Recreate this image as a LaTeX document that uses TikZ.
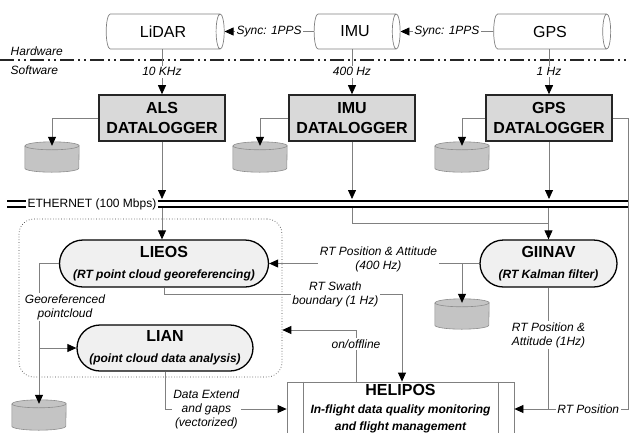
\documentclass[tikz,border=0pt]{standalone}
\usepackage{fontspec}
\setmainfont{Liberation Sans}
\usetikzlibrary{shapes.geometric,shapes.misc,arrows.meta}

\definecolor{boxgray}{HTML}{D9D9D9}
\definecolor{diskgray}{HTML}{C4C4C4}
\definecolor{linegray}{HTML}{808080}
\definecolor{pillgray}{HTML}{F0F0F0}

\tikzset{
  sensor/.style={cylinder, draw=linegray, line width=0.7pt, fill=white,
    minimum width=35pt, aspect=0.7, inner sep=0pt,
    font=\fontsize{16}{18}\selectfont},
  logger/.style={draw=black!85, line width=1.6pt, fill=boxgray,
    minimum width=126pt, minimum height=46pt, align=center, inner sep=0pt,
    font=\fontsize{16}{20}\selectfont\bfseries},
  disk/.style={minimum width=54pt, minimum height=22pt, inner sep=0pt},
  diskline/.style={draw=linegray!90, fill=diskgray, line width=0.6pt},
  process/.style={rounded rectangle, draw=black, line width=1.3pt, fill=pillgray,
    minimum height=47pt, align=center, inner sep=0pt,
    font=\fontsize{12}{21}\selectfont},
  conn/.style={draw=linegray, line width=0.8pt},
  tip/.style={conn, -{Triangle[length=9pt,width=8pt,color=black]}},
  lab/.style={fill=white, inner sep=1.5pt, align=center,
    font=\fontsize{12}{14}\selectfont\itshape},
  ethline/.style={draw=black, line width=1.9pt, double=white, double distance=3.5pt},
  divider/.style={draw=black!85, line width=1.8pt, dash pattern=on 14pt off 4pt on 2pt off 4pt on 2pt off 4pt}
}

\begin{document}
\begin{tikzpicture}[x=1pt,y=-1pt]
  \useasboundingbox (0,0) rectangle (629,432);

  \node[sensor, minimum height=118pt] (lidar) at (163,31.5) {LiDAR};
  \node[sensor, minimum height=86pt] (imu) at (355,31.5) {IMU};
  \node[sensor, minimum height=117pt] (gps) at (550,31.5) {GPS};

  \coordinate (hwL) at (0,60);
  \coordinate (hwR) at (629,60);
  \draw[divider] (hwL) -- (hwR);
  \node[lab, fill=none, anchor=west] (hwlab) at (9,51) {Hardware};
  \node[lab, fill=none, anchor=west] (swlab) at (9,70) {Software};

  \node[logger] (als) at (162,118) {ALS\\DATALOGGER};
  \node[logger] (imudl) at (352,118) {IMU\\DATALOGGER};
  \node[logger] (gpsdl) at (549,118) {GPS\\DATALOGGER};

  \node[disk] (alsdisk) at (52,157) {};
  \node[disk] (imudisk) at (260,157) {};
  \node[disk] (gpsdisk) at (462,157) {};
  \node[disk] (giinavdisk) at (462,314) {};
  \node[disk] (lieosdisk) at (39,415) {};
  \foreach \d in {alsdisk,imudisk,gpsdisk,giinavdisk,lieosdisk}{
    \draw[diskline] (\d.north west) -- (\d.south west)
      arc[start angle=180, end angle=360, x radius=27pt, y radius=4pt]
      -- (\d.north east)
      arc[start angle=0, end angle=180, x radius=27pt, y radius=4pt] -- cycle;
    \draw[diskline, fill=none] (\d.north west)
      arc[start angle=180, end angle=360, x radius=27pt, y radius=4pt];
  }

  \node[font=\fontsize{12}{14}\selectfont, inner sep=1pt] (eth) at (92,204) {ETHERNET (100 Mbps)};
  \coordinate (ethL) at (7,204);
  \coordinate (ethR) at (629,204);
  \coordinate (ethtop) at (0,199);
  \coordinate (ethbot) at (0,208);
  \coordinate (imujoin) at (0,223);

  \node[draw=black!75, dotted, line width=0.7pt, rounded corners=15pt, minimum width=263pt,
    minimum height=158pt] (group) at (150.5,298) {};
  \node[process, minimum width=209pt] (lieos) at (164,263.5)
    {{\fontsize{16}{18}\selectfont\bfseries LIEOS}\\
     {\bfseries\itshape (RT point cloud georeferencing)}};
  \node[process, minimum width=137pt] (giinav) at (548.5,263.5)
    {{\fontsize{16}{18}\selectfont\bfseries GIINAV}\\
     {\bfseries\itshape (RT Kalman filter)}};
  \node[process, minimum width=176pt, minimum height=46pt] (lian) at (165,348)
    {{\fontsize{16}{18}\selectfont\bfseries LIAN}\\
     {\bfseries\itshape (point cloud data analysis)}};

  \node[draw=linegray, line width=0.8pt, fill=white, minimum width=227pt,
    minimum height=54pt, align=center, inner sep=0pt,
    font=\fontsize{12}{17.5}\selectfont] (helipos) at (400.5,409)
    {{\fontsize{16}{18}\selectfont\bfseries HELIPOS}\\
     {\bfseries\itshape In-flight data quality monitoring}\\
     {\bfseries\itshape and flight management}};
  \draw[conn] ([xshift=17pt]helipos.north west) -- ([xshift=17pt]helipos.south west);
  \draw[conn] ([xshift=-16pt]helipos.north east) -- ([xshift=-16pt]helipos.south east);

  \draw[tip] (imu.west) -- node[lab]{Sync: 1PPS} (lidar.east);
  \draw[tip] (gps.west) -- node[lab]{Sync: 1PPS} (imu.east);
  \draw[tip] (lidar.south -| als.north) -- node[lab]{10 KHz} (als.north);
  \draw[tip] (imu.south -| imudl.north) -- node[lab]{400 Hz} (imudl.north);
  \draw[tip] (gps.south -| gpsdl.north) -- node[lab]{1 Hz} (gpsdl.north);

  \draw[tip] (als.west) -| (alsdisk.north);
  \draw[tip] (imudl.west) -| (imudisk.north);
  \draw[tip] (gpsdl.west) -| (gpsdisk.north);

  \draw[ethline] (ethL) -- (eth.west);
  \draw[ethline] (eth.east) -- (ethR);

  \draw[tip] (als.south) -- (als.south |- ethtop);
  \draw[tip] (imudl.south) -- (imudl.south |- ethtop);
  \draw[tip] (gpsdl.south) -- (gpsdl.south |- ethtop);
  \draw[tip] (als.south |- ethbot) -- (als.south |- lieos.north);
  \draw[conn] (imudl.south |- ethbot) |- (giinav.north |- imujoin);
  \draw[tip] (giinav.north |- ethbot) -- (giinav.north);

  \draw[tip] (giinavdisk.north |- giinav.west) -- (giinavdisk.north);
  \draw[tip] (giinav.west) -- node[lab, pos=0.48, yshift=4pt]{RT Position \& Attitude\\(400 Hz)} (lieos.east);

  \draw[tip] (lieos.west) -| (lieosdisk.north);
  \draw[tip] (lieosdisk.north |- lian.west) -- (lian.west);
  \node[lab] (geolab) at (65,307) {Georeferenced\\pointcloud};

  \draw[tip] (lieos.south) |- node[lab, pos=0.86]{RT Swath\\boundary (1 Hz)} ([xshift=1.5pt]helipos.north |- 0,294) -- ([xshift=1.5pt]helipos.north);

  \coordinate (onoff) at (356,330);
  \draw[tip] (onoff |- helipos.north) -- node[lab, pos=0.73]{on/offline} (onoff) -- (onoff -| group.east);

  \draw[tip] (lian.south) |- node[lab, pos=0.67]{Data Extend\\and gaps\\(vectorized)} (helipos.west);

  \coordinate (rtturn) at (628,409);
  \draw[conn] (giinav.south) -- node[lab, pos=0.39]{RT Position \&\\Attitude (1Hz)} (giinav.south |- rtturn);
  \draw[tip] (gpsdl.east) -| (rtturn) -- node[lab, pos=0.35]{RT Position} (helipos.east);
\end{tikzpicture}
\end{document}
